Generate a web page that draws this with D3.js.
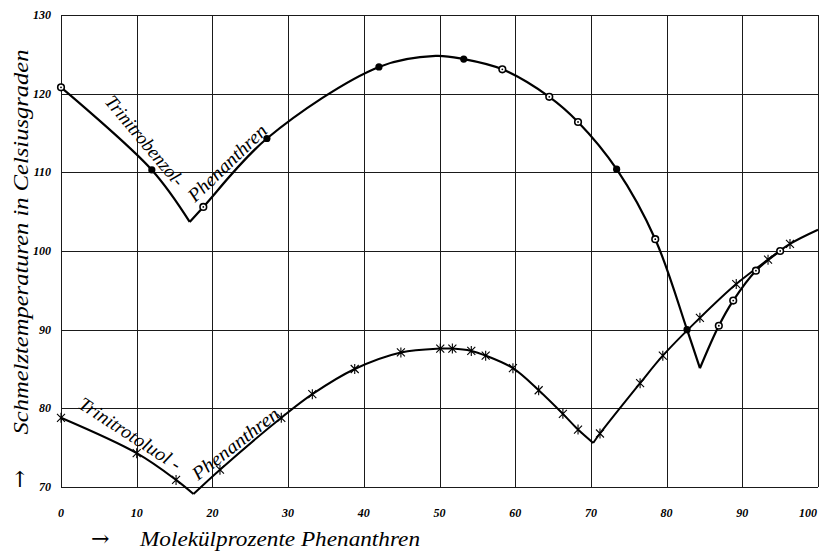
<!DOCTYPE html>
<html><head><meta charset="utf-8">
<script src="https://cdn.jsdelivr.net/npm/d3@7"></script>
<style>body{margin:0;background:#fff}</style>
</head><body>
<svg id="c" width="822" height="553"></svg>
<script>
// ---- data ----
const xTicks=[0,10,20,30,40,50,60,70,80,90,100];
const yTicks=[70,80,90,100,110,120,130];
const xTitle="Molekülprozente Phenanthren";
const yTitle="Schmelztemperaturen in Celsiusgraden";
// Trinitrobenzol – Phenanthren (curve vertices, incl. eutectic cusps and peak)
const tnbLine1=[[0,120.8],[12,110.3],[17.0,103.7]];
const tnbLine2=[[17.0,103.7],[18.8,105.6],[27.2,114.3],[42.0,123.4],[49.5,124.8],[53.2,124.4],[58.3,123.1],[64.5,119.6],[68.3,116.4],[73.4,110.4],[78.5,101.5],[82.7,90.0],[84.4,85.1]];
const tnbLine3=[[84.4,85.1],[86.9,90.5],[88.8,93.7],[91.8,97.5],[95.0,100.0]];
const tnbFilled=[[12,110.3],[27.2,114.3],[42.0,123.4],[53.2,124.4],[73.4,110.4],[82.7,90.0]];
const tnbOpen=[[0,120.8],[18.8,105.6],[58.3,123.1],[64.5,119.6],[68.3,116.4],[78.5,101.5],[86.9,90.5],[88.8,93.7],[91.8,97.5],[95.0,100.0]];
// Trinitrotoluol – Phenanthren
const tntLine1=[[0,78.8],[10,74.3],[15.2,70.9],[17.5,69.1]];
const tntLine2=[[17.5,69.1],[21.0,72.2],[29.1,78.8],[33.2,81.8],[38.8,85.0],[44.9,87.1],[50.1,87.6],[51.7,87.6],[54.2,87.3],[56.1,86.7],[59.7,85.1],[63.1,82.3],[66.3,79.3],[68.3,77.3],[70.3,75.6]];
const tntLine3=[[70.3,75.6],[71.2,76.8],[76.5,83.2],[79.5,86.7],[84.4,91.5],[89.2,95.8],[93.4,98.9],[96.3,100.9],[100,102.7]];
const tntCross=[[0,78.8],[10,74.3],[15.2,70.9],[21.0,72.2],[29.1,78.8],[33.2,81.8],[38.8,85.0],[44.9,87.1],[50.1,87.6],[51.7,87.6],[54.2,87.3],[56.1,86.7],[59.7,85.1],[63.1,82.3],[66.3,79.3],[68.3,77.3],[71.2,76.8],[76.5,83.2],[79.5,86.7],[84.4,91.5],[89.2,95.8],[93.4,98.9],[96.3,100.9]];

// ---- drawing ----
const svg=d3.select("#c");
const x=d3.scaleLinear().domain([0,100]).range([61,818]);
const y=d3.scaleLinear().domain([70,130]).range([487,15]);
const serif="'Liberation Serif','DejaVu Serif',serif";

// grid
const g=svg.append("g").attr("stroke","#1a1a1a").attr("stroke-width",1).attr("shape-rendering","crispEdges");
g.selectAll("line.v").data(xTicks).join("line")
  .attr("x1",d=>Math.round(x(d))+0.5).attr("x2",d=>Math.round(x(d))+0.5)
  .attr("y1",y(70)).attr("y2",y(130));
g.selectAll("line.h").data(yTicks).join("line")
  .attr("y1",d=>Math.round(y(d))+0.5).attr("y2",d=>Math.round(y(d))+0.5)
  .attr("x1",x(0)).attr("x2",x(100));

// tick labels
svg.append("g").selectAll("text").data(yTicks).join("text")
  .attr("x",x(0)-10).attr("y",d=>y(d)+4)
  .attr("text-anchor","end").attr("font-family",serif).attr("font-style","italic")
  .attr("font-weight","bold").attr("font-size",12).text(d=>d);
svg.append("g").selectAll("text").data(xTicks).join("text")
  .attr("x",d=>d===100?x(d)-10:x(d)).attr("y",517)
  .attr("text-anchor","middle").attr("font-family",serif).attr("font-style","italic")
  .attr("font-weight","bold").attr("font-size",12).text(d=>d);

// axis titles
svg.append("text").attr("x",91).attr("y",546).attr("font-family","'DejaVu Serif',serif")
  .attr("font-size",22).text("→");
svg.append("text").attr("x",140).attr("y",546).attr("font-family",serif).attr("font-style","italic")
  .attr("font-size",22).attr("textLength",280).attr("lengthAdjust","spacingAndGlyphs").text(xTitle);
svg.append("text").attr("transform","translate(28,242) rotate(-90)").attr("text-anchor","middle")
  .attr("font-family",serif).attr("font-style","italic").attr("font-size",22)
  .attr("textLength",385).attr("lengthAdjust","spacingAndGlyphs").text(yTitle);
svg.append("text").attr("transform","translate(27,479) rotate(-90)").attr("text-anchor","middle")
  .attr("font-family","'DejaVu Serif',serif").attr("font-size",22).text("→");

// curves
const line=d3.line().x(d=>x(d[0])).y(d=>y(d[1])).curve(d3.curveCatmullRom.alpha(0.5));
[tnbLine1,tnbLine2,tnbLine3].forEach(L=>svg.append("path").attr("d",line(L))
  .attr("fill","none").attr("stroke","#000").attr("stroke-width",2.2).attr("stroke-linejoin","miter"));
[tntLine1,tntLine2,tntLine3].forEach(L=>svg.append("path").attr("d",line(L))
  .attr("fill","none").attr("stroke","#000").attr("stroke-width",2).attr("stroke-linejoin","miter"));

// markers
svg.append("g").selectAll("circle").data(tnbFilled).join("circle")
  .attr("cx",d=>x(d[0])).attr("cy",d=>y(d[1])).attr("r",3.6).attr("fill","#000");
const op=svg.append("g").selectAll("g").data(tnbOpen).join("g")
  .attr("transform",d=>`translate(${x(d[0])},${y(d[1])})`);
op.append("circle").attr("r",3.3).attr("fill","#fff").attr("stroke","#000").attr("stroke-width",1.6);
op.append("circle").attr("r",0.9).attr("fill","#000");
svg.append("g").selectAll("path").data(tntCross).join("path")
  .attr("transform",d=>`translate(${x(d[0])},${y(d[1])})`)
  .attr("d","M-4,-4L4,4M-4,4L4,-4M0,-5L0,5")
  .attr("stroke","#000").attr("stroke-width",1.1).attr("fill","none");

// curve labels
function lab(px,py,ang,len,txt){
  svg.append("text").attr("transform",`translate(${px},${py}) rotate(${ang})`)
    .attr("font-family",serif).attr("font-style","italic").attr("font-size",19)
    .attr("textLength",len).attr("lengthAdjust","spacingAndGlyphs").text(txt);
}
lab(104,102,50,112,"Trinitrobenzol-");
lab(195,203,-44,102,"Phenanthren");
lab(77,407,33,118,"Trinitrotoluol -");
lab(198,481,-38,105,"Phenanthren");
</script>
</body></html>
